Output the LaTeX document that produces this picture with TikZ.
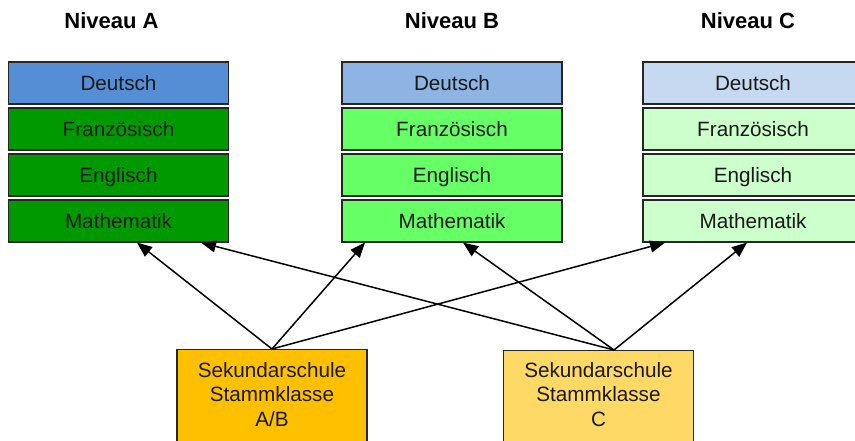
\documentclass[tikz,border=0pt]{standalone}
\usepackage{fontspec}
\setmainfont{Liberation Sans}
\usetikzlibrary{arrows.meta}
\definecolor{blauA}{HTML}{558ED5}
\definecolor{blauB}{HTML}{8EB4E3}
\definecolor{blauC}{HTML}{C6D9F1}
\definecolor{gruenA}{HTML}{009A00}
\definecolor{gruenB}{HTML}{66FF66}
\definecolor{gruenC}{HTML}{CCFFCC}
\definecolor{gelbAB}{HTML}{FFC000}
\definecolor{gelbC}{HTML}{FFD966}
\begin{document}
\begin{tikzpicture}[x=1pt,y=-1pt]
	\tikzstyle{every node}+=[inner sep=0pt]
	\tikzstyle{fach}=[draw=black!85, line width=1.2pt, text=black!90, minimum width=220pt, minimum height=42pt, text height=14.8pt, text depth=0pt, font=\fontsize{20.7}{24}\selectfont]
	\tikzstyle{niveau}=[anchor=base, font=\fontsize{22}{26}\selectfont\bfseries]
	\tikzstyle{schule}=[draw=black!85, line width=1.2pt, minimum width=190pt, minimum height=110pt, anchor=north]
	\tikzstyle{schultext}=[anchor=north, align=center, text=black!90, font=\fontsize{20.7}{24.5}\selectfont]
	\tikzstyle{pfeil}=[line width=1.5pt, -{Triangle[length=15pt,width=12pt]}]
	\useasboundingbox (0,0) rectangle (855,441);
	\clip (0,0) rectangle (855,441);
	% Ueberschriften
	\node [niveau] (tA) at (111.5,29) {Niveau A};
	\node [niveau] (tB) at (452,29) {Niveau B};
	\node [niveau] (tC) at (748,29) {Niveau C};
	% Niveau A
	\node [fach, fill=blauA] (dA) at (118.5,83) {Deutsch};
	\node [fach, fill=gruenA] (fA) at (118.5,129) {Französisch};
	\node [fach, fill=gruenA] (eA) at (118.5,175) {Englisch};
	\node [fach, fill=gruenA] (mA) at (118.5,221) {Mathematik};
	% Niveau B
	\node [fach, fill=blauB] (dB) at (452,83) {Deutsch};
	\node [fach, fill=gruenB] (fB) at (452,129) {Französisch};
	\node [fach, fill=gruenB] (eB) at (452,175) {Englisch};
	\node [fach, fill=gruenB] (mB) at (452,221) {Mathematik};
	% Niveau C
	\node [fach, fill=blauC] (dC) at (753,83) {Deutsch};
	\node [fach, fill=gruenC] (fC) at (753,129) {Französisch};
	\node [fach, fill=gruenC] (eC) at (753,175) {Englisch};
	\node [fach, fill=gruenC] (mC) at (753,221) {Mathematik};
	% Stammklassen
	\node [schule, fill=gelbAB] (ab) at (272,349) {};
	\node [schultext] (abtext) at ([yshift=-13.2pt]ab.north) {Sekundarschule\\Stammklasse\\A/B};
	\node [schule, fill=gelbC] (c) at (598.5,350) {};
	\node [schultext] (ctext) at ([yshift=-12.2pt]c.north) {Sekundarschule\\Stammklasse\\C};
	% Pfeile
	\draw [pfeil] (ab.north) -- ([xshift=18.5pt]mA.south);
	\draw [pfeil] (ab.north) -- ([xshift=-87pt]mB.south);
	\draw [pfeil] (ab.north) -- ([xshift=-88pt]mC.south);
	\draw [pfeil] ([xshift=15.5pt]c.north) -- ([xshift=82.5pt]mA.south);
	\draw [pfeil] ([xshift=15.5pt]c.north) -- ([xshift=11pt]mB.south);
	\draw [pfeil] ([xshift=15.5pt]c.north) -- ([xshift=-6pt]mC.south);
\end{tikzpicture}
\end{document}
